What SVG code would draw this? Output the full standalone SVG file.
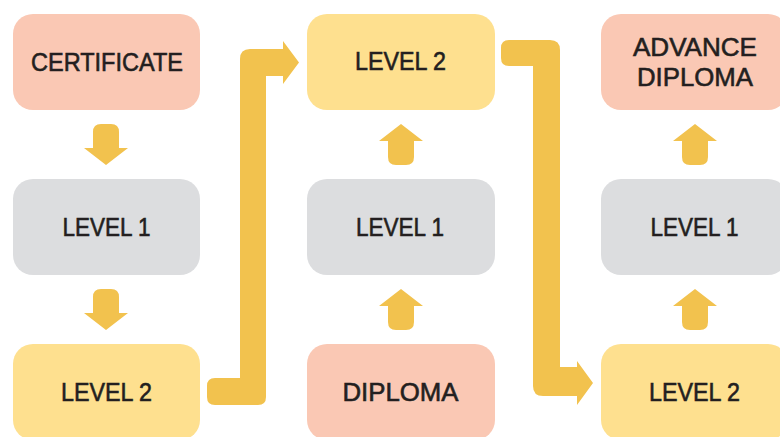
<svg xmlns="http://www.w3.org/2000/svg" xmlns:xlink="http://www.w3.org/1999/xlink" width="780" height="437" viewBox="0 0 780 437">
<style>
.pink{fill:#FAC8B4}
.gray{fill:#DCDDDF}
.yel{fill:#FEE08F}
.arr{fill:#F2C24E}
text{font-family:"Liberation Sans",Arial,sans-serif;font-size:26px;fill:#231F20;stroke:#231F20;stroke-width:0.6px;text-anchor:middle}
</style>
<defs>
<path id="up" d="M0,0 L22,17 H13 V33 Q13,41 5,41 H-5 Q-13,41 -13,33 V17 H-22 Z"/>
</defs>
<g id="connectors" class="arr">
<use xlink:href="#up" href="#up" transform="translate(106,165) rotate(180)"/>
<use xlink:href="#up" href="#up" transform="translate(106,330) rotate(180)"/>
<use xlink:href="#up" href="#up" transform="translate(401,124)"/>
<use xlink:href="#up" href="#up" transform="translate(401,289)"/>
<use xlink:href="#up" href="#up" transform="translate(695,124)"/>
<use xlink:href="#up" href="#up" transform="translate(695,289)"/>
<path d="M215,378 H240 V59 Q240,49 250,49 H283 V41 L299,62.5 L283,84 V76 H266 V397 Q266,405 258,405 H215 Q207,405 207,397 V386 Q207,378 215,378 Z"/>
<path d="M509,40 H550 Q560,40 560,50 V367 H577 V361 L593,383 L577,405 V396 H543 Q533,396 533,386 V66 H509 Q501,66 501,58 V48 Q501,40 509,40 Z"/>
</g>
<g id="certificate"><rect class="pink" x="13" y="14" width="187" height="96" rx="20"/><text x="107" y="71" textLength="152" lengthAdjust="spacingAndGlyphs">CERTIFICATE</text></g>
<g id="c1-level1"><rect class="gray" x="13" y="179" width="187" height="96" rx="20"/><text x="106.5" y="236" textLength="88" lengthAdjust="spacingAndGlyphs">LEVEL 1</text></g>
<g id="c1-level2"><rect class="yel" x="13" y="344" width="187" height="96" rx="20"/><text x="106.5" y="401" textLength="91" lengthAdjust="spacingAndGlyphs">LEVEL 2</text></g>
<g id="c2-level2"><rect class="yel" x="307" y="14" width="188" height="96" rx="20"/><text x="400.5" y="70" textLength="91" lengthAdjust="spacingAndGlyphs">LEVEL 2</text></g>
<g id="c2-level1"><rect class="gray" x="307" y="179" width="188" height="96" rx="20"/><text x="400" y="236" textLength="88" lengthAdjust="spacingAndGlyphs">LEVEL 1</text></g>
<g id="diploma"><rect class="pink" x="307" y="344" width="188" height="96" rx="20"/><text x="400.5" y="401" textLength="116" lengthAdjust="spacingAndGlyphs">DIPLOMA</text></g>
<g id="advance-diploma"><rect class="pink" x="601" y="14" width="187" height="96" rx="20"/><text x="695" y="56" textLength="124" lengthAdjust="spacingAndGlyphs">ADVANCE</text><text x="695" y="86" textLength="116" lengthAdjust="spacingAndGlyphs">DIPLOMA</text></g>
<g id="c3-level1"><rect class="gray" x="601" y="179" width="187" height="96" rx="20"/><text x="694.5" y="236" textLength="88" lengthAdjust="spacingAndGlyphs">LEVEL 1</text></g>
<g id="c3-level2"><rect class="yel" x="601" y="344" width="187" height="96" rx="20"/><text x="694.5" y="401" textLength="91" lengthAdjust="spacingAndGlyphs">LEVEL 2</text></g>
</svg>
